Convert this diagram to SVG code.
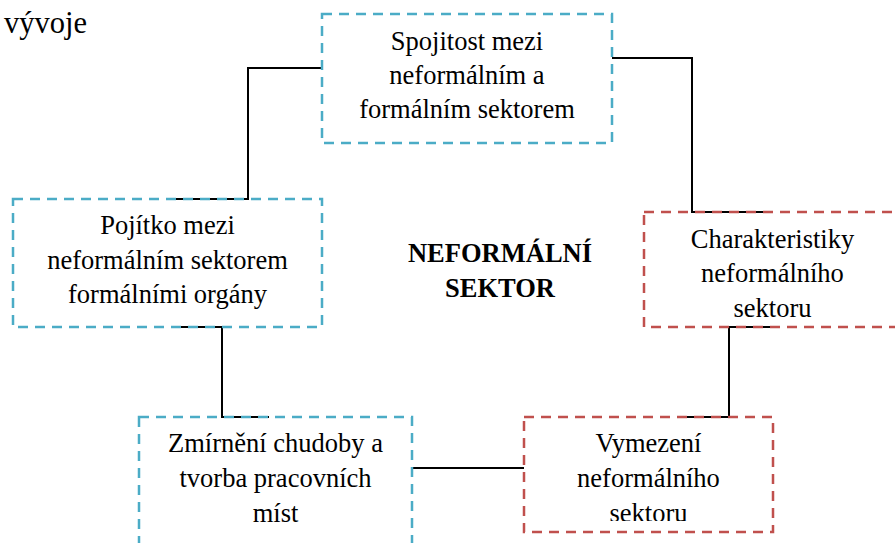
<svg xmlns="http://www.w3.org/2000/svg" width="895" height="543" viewBox="0 0 895 543">
<style>
.t{font-family:'Liberation Serif','Tinos','DejaVu Serif',serif;font-size:26.5px;fill:#000;text-anchor:middle}
.b{font-weight:bold}
.blue{fill:none;stroke:#4BACC6;stroke-width:2.5;stroke-dasharray:10 7}
.red{fill:none;stroke:#C0504D;stroke-width:2.5;stroke-dasharray:10 7}
.c{fill:none;stroke:#000;stroke-width:2}
</style>
<defs>
<clipPath id="clipV"><rect x="524" y="417" width="249" height="104"/></clipPath>
</defs>
<rect width="895" height="543" fill="#fff"/>
<text x="4" y="33" font-family="Liberation Serif, serif" font-size="30.5">vývoje</text>
<g id="connectors">
<polyline class="c" points="322,68 248,68 248,199 176,199"/>
<polyline class="c" points="176,327 222,327 222,417 269,417"/>
<polyline class="c" points="412,468 524,468"/>
<polyline class="c" points="685,417 729,417 729,327 773,327"/>
<polyline class="c" points="612,58 692,58 692,212 773,212"/>
</g>
<g id="node-spojitost">
<rect class="blue" x="322" y="14" width="290" height="129"/>
<text class="t" x="467" y="50">Spojitost mezi</text>
<text class="t" x="467" y="84">neformálním a</text>
<text class="t" x="467" y="118">formálním sektorem</text>
</g>
<g id="node-pojitko">
<rect class="blue" x="13" y="199" width="309" height="128"/>
<text class="t" x="167.5" y="234">Pojítko mezi</text>
<text class="t" x="167.5" y="269">neformálním sektorem</text>
<text class="t" x="167.5" y="303">formálními orgány</text>
</g>
<g id="node-charakteristiky">
<rect class="red" x="644" y="212" width="257" height="115"/>
<text class="t" x="772.5" y="248">Charakteristiky</text>
<text class="t" x="772.5" y="282">neformálního</text>
<text class="t" x="772.5" y="317">sektoru</text>
</g>
<g id="node-zmirneni">
<rect class="blue" x="139" y="417" width="273" height="140"/>
<text class="t" x="275.5" y="452">Zmírnění chudoby a</text>
<text class="t" x="275.5" y="487">tvorba pracovních</text>
<text class="t" x="275.5" y="522">míst</text>
</g>
<g id="node-vymezeni">
<rect class="red" x="524" y="417" width="249" height="115"/>
<g clip-path="url(#clipV)">
<text class="t" x="648.5" y="452">Vymezení</text>
<text class="t" x="648.5" y="487">neformálního</text>
<text class="t" x="648.5" y="522">sektoru</text>
</g>
</g>
<g id="node-center">
<text class="t b" x="500" y="262">NEFORMÁLNÍ</text>
<text class="t b" x="500" y="297">SEKTOR</text>
</g>
</svg>
